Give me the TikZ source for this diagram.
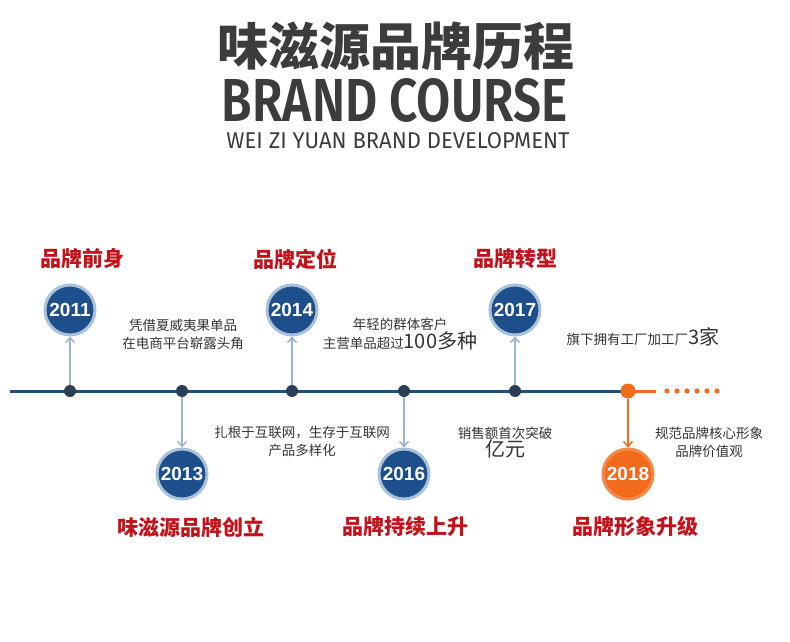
\documentclass[tikz,border=0pt]{standalone}
\usepackage{fontspec}
\setmainfont{Noto Sans CJK SC}
\newfontfamily\latinbold{Fira Sans}[UprightFont=* SemiBold]
\newfontfamily\latinreg{Fira Sans}
\newfontfamily\yearfont{Liberation Sans}
\definecolor{titlegray}{HTML}{3C3C3C}
\definecolor{textgray}{HTML}{333333}
\definecolor{brandred}{HTML}{C4121A}
\definecolor{lineblue}{HTML}{1F4E79}
\definecolor{dotnavy}{HTML}{2C3E55}
\definecolor{yearblue}{HTML}{1D4F8C}
\definecolor{ringblue}{HTML}{A9C1D9}
\definecolor{arrowblue}{HTML}{9BB5CF}
\definecolor{brandorange}{HTML}{F26B1D}
\tikzset{
  stop/.style={circle,fill=dotnavy,inner sep=0pt,minimum size=12pt},
  year/.style={circle,fill=yearblue,draw=ringblue,line width=3pt,inner sep=0pt,
    minimum size=50pt,text=white,font=\yearfont\bfseries\fontsize{19}{19}\selectfont},
  yearnew/.style={year,fill=brandorange,draw=brandorange!80},
  stage/.style={text=brandred,font=\fontsize{21}{21}\selectfont\bfseries},
  note/.style={text=textgray,align=center,font=\fontsize{13.5}{18}\selectfont},
  link/.style={draw=arrowblue,line width=1.5pt,-{Straight Barb[length=5pt,width=9pt]}},
}
\usetikzlibrary{arrows.meta}
\begin{document}
\begin{tikzpicture}[x=1pt,y=-1pt]
\useasboundingbox (0,0) rectangle (790,642);
% title
\node[text=titlegray,font=\fontsize{51}{51}\selectfont\bfseries] (title) at (396,46) {味滋源品牌历程};
\node[text=titlegray,inner sep=0pt,text depth=0pt] (course) at (395,100) {\resizebox{346pt}{43pt}{\latinbold BRAND COURSE}};
\node[text=titlegray,inner sep=0pt,text depth=0pt,text height=16pt] (sub) at (398,141) {\resizebox{343pt}{16pt}{\latinreg WEI ZI YUAN BRAND DEVELOPMENT}};
% time line
\coordinate (start) at (10,391);
\coordinate (turn) at (628,391);
\coordinate (tail) at (656,391);
\draw[lineblue,line width=3pt] (start) -- (turn);
\draw[brandorange,line width=3pt] (turn) -- (tail);
\foreach \x in {667,677,687,697,707,717} \fill[brandorange] (\x,391) circle (2.6);
\foreach \x/\n in {70/11,182/13,292/14,404/16,515/17} \node[stop] (d\n) at (\x,391) {};
\node[circle,fill=brandorange,inner sep=0pt,minimum size=15pt] (d18) at (turn) {};
% years
\node[year] (y11) at (70,310) {2011};
\node[year] (y14) at (292,310) {2014};
\node[year] (y17) at (515,310) {2017};
\node[year] (y13) at (182,474) {2013};
\node[year] (y16) at (404,474) {2016};
\node[yearnew] (y18) at (628,474) {2018};
\foreach \n in {11,13,14,16,17} \draw[link] (d\n) -- (y\n);
\draw[link,draw=brandorange] (d18) -- (y18);
% stages
\node[stage] (s11) at (82,259) {品牌前身};
\node[stage] (s14) at (295,259) {品牌定位};
\node[stage] (s17) at (515,259) {品牌转型};
\node[stage] (s13) at (191,527) {味滋源品牌创立};
\node[stage] (s16) at (405,527) {品牌持续上升};
\node[stage] (s18) at (635,527) {品牌形象升级};
% notes
\node[note] (n11) at (183,334) {凭借夏威夷果单品\\在电商平台崭露头角};
\node[note] (n14) at (400,334) {年轻的群体客户\\主营单品超过{\fontsize{20}{20}\selectfont 100多种}};
\node[note] (n17) at (643,337) {旗下拥有工厂加工厂{\fontsize{20}{20}\selectfont 3家}};
\node[note] (n13) at (302,441) {扎根于互联网，生存于互联网\\产品多样化};
\node[note] (n16) at (505,443) {销售额首次突破\\{\fontsize{20}{20}\selectfont 亿元}};
\node[note] (n18) at (709,442) {规范品牌核心形象\\品牌价值观};
\end{tikzpicture}
\end{document}
